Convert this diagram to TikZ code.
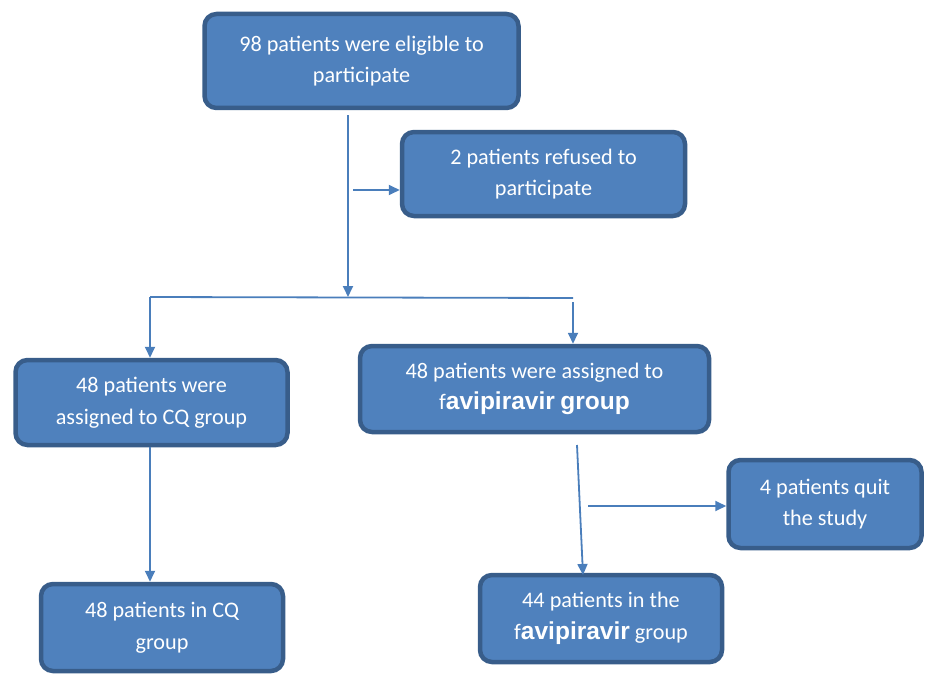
\documentclass[tikz,border=0pt]{standalone}
\usepackage{fontspec}
\setmainfont{Carlito}
\newfontfamily\arialfont{Liberation Sans}
\usepackage{tikz}
\usetikzlibrary{arrows.meta}
\definecolor{boxfill}{RGB}{79,129,189}
\definecolor{boxline}{RGB}{56,93,138}
\definecolor{arrowblue}{RGB}{74,126,187}
\newcommand{\favi}{{\arialfont\bfseries avipiravir}}
\tikzset{
	box/.style={rectangle, rounded corners=12pt, draw=boxline, fill=boxfill, line width=4.5pt, text=white, align=center, font=\fontsize{22.2}{31.5}\selectfont},
	link/.style={draw=arrowblue, line width=1.8pt},
	arr/.style={link, -{Triangle[length=11pt,width=10pt]}}
}
\begin{document}
\begin{tikzpicture}[x=1pt, y=-1pt]
			\useasboundingbox (0,0) rectangle (925,674);
			\node at (361.5, 61) [box, minimum width=314pt, minimum height=94pt] (eligible) {98 patients were eligible to\\participate};
			\node at (543.5, 174) [box, minimum width=283pt, minimum height=84pt] (refused) {2 patients refused to\\participate};
			\node at (151.5, 402.5) [box, minimum width=272pt, minimum height=85pt] (cqassign) {48 patients were\\assigned to CQ group};
			\node at (534.5, 389) [box, minimum width=349pt, minimum height=86pt] (faviassign) {48 patients were assigned to\\f{\fontsize{24.5}{31.5}\selectfont\favi\ \arialfont\bfseries group}};
			\node at (825, 504) [box, minimum width=193pt, minimum height=88pt] (quit) {4 patients quit\\the study};
			\node at (162, 627.5) [box, minimum width=242pt, minimum height=87pt] (cqin) {48 patients in CQ\\group};
			\node at (601, 618.5) [box, minimum width=242pt, minimum height=87pt] (faviin) {44 patients in the\\f{\fontsize{24.5}{31.5}\selectfont\favi} group};
			\coordinate (top) at (348, 115);
			\coordinate (split) at (348, 297);
			\coordinate (lft) at (150, 297);
			\coordinate (rgt) at (573, 298);
			\coordinate (rgtdown) at (573, 302);
			\coordinate (side) at (353, 190);
			\coordinate (favidown) at (577, 445);
			\coordinate (quitside) at (588, 506);
			\draw [arr] (top) -- (split);
			\draw [arr] (side) -- (refused.west |- side);
			\draw [link] (lft) -- (rgt);
			\draw [arr] (lft) -- (cqassign.north -| lft);
			\draw [arr] (rgtdown) -- (faviassign.north -| rgtdown);
			\draw [arr] (cqassign.south -| lft) -- (cqin.north -| lft);
			\draw [arr] (favidown) -- (583, 575);
			\draw [arr] (quitside) -- (quit.west |- quitside);
		\end{tikzpicture}
\end{document}
